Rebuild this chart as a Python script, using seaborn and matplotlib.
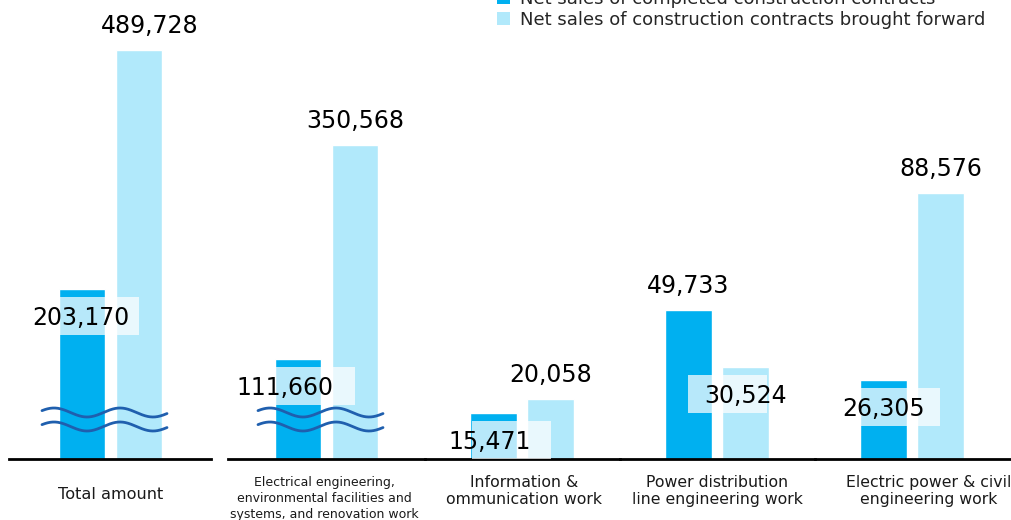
import matplotlib
matplotlib.use("Agg")
import matplotlib.pyplot as plt
import matplotlib.transforms as mtransforms
from matplotlib.patches import Patch, Rectangle
import numpy as np
import pandas as pd
import seaborn as sns

# ---- data -------------------------------------------------------------
groups = [
    "Total amount",
    "Electrical engineering,\nenvironmental facilities and\nsystems, and renovation work",
    "Information &\nommunication work",
    "Power distribution\nline engineering work",
    "Electric power & civil\nengineering work",
]
series = [
    "Net sales of completed construction contracts",
    "Net sales of construction contracts brought forward",
]
completed = [203170, 111660, 15471, 49733, 26305]
brought_forward = [489728, 350568, 20058, 30524, 88576]

colors = ["#00B0F0", "#B1E9FB"]

# ---- layout (pixels on a 1012x520 canvas) -----------------------------
W, H, DPI = 1012, 520, 100
BASE, TOP = 459, 20
PX_PER_UNIT = 142.5
# left, right, group centre, y max, label size, label pad, label dx, line spacing
panels = [
    (9, 211, 110.5, 526000, 11.6, 28, 0, 1.2),
    (228, 425, 326.5, 489400, 9, 17, -2, 1.32),
    (425, 620, 522, 146300, 11.3, 16, 2, 1.2),
    (620, 815, 717, 146300, 11.3, 16, 0, 1.2),
    (815, 1012, 912, 146300, 11.3, 16, 17, 1.2),
]
# where the value label of each bar goes: "above" or "in", with x offset
label_pos = [
    (("in", -1), ("above", 11)),
    (("in", -13), ("above", 0)),
    (("in", -4), ("above", 0)),
    (("above", 0), ("in", 0)),
    (("in", 0), ("above", 0)),
]
broken = [True, True, False, False, False]

df = pd.DataFrame({
    "group": np.repeat(groups, 2),
    "series": series * len(groups),
    "value": [v for pair in zip(completed, brought_forward) for v in pair],
})

sns.set_style("white")
plt.rcParams["font.family"] = ["DejaVu Sans"]

fig = plt.figure(figsize=(W / DPI, H / DPI), dpi=DPI)


def draw_wave(ax, y_px, x0_px, x1_px, left, right):
    # break mark drawn in pixel units, converted to axes fractions
    s = np.linspace(0, x1_px - x0_px, 200)
    y = 4.5 * np.cos(2 * np.pi * (s - 12) / 66)
    xf = (x0_px + s - left) / (right - left)
    yf = (BASE - y_px + y) / (BASE - TOP)
    ax.plot(xf, yf, transform=ax.transAxes, color="#1F5FAE", lw=2.0,
            clip_on=False, zorder=5, solid_capstyle="round")


for i, (left, right, centre, ymax, tsize, tpad, tdx, lsp) in enumerate(panels):
    ax = fig.add_axes([left / W, (H - BASE) / H, (right - left) / W, (BASE - TOP) / H])
    sub = df[df["group"] == groups[i]]
    sns.barplot(data=sub, x="group", y="value", hue="series", hue_order=series,
                palette=colors, width=0.8, gap=0.19, saturation=1,
                legend=False, ax=ax)
    ax.set_xlim((left - centre) / PX_PER_UNIT, (right - centre) / PX_PER_UNIT)
    ax.set_ylim(0, ymax)
    ax.set_xlabel("")
    ax.set_ylabel("")
    ax.set_yticks([])
    ax.set_xticks([])
    sns.despine(ax=ax, left=True)
    ax.spines["bottom"].set_color("black")
    ax.spines["bottom"].set_linewidth(2)
    ax.patch.set_alpha(0)

    # category label
    ax.annotate(groups[i], xy=(0, 0), xycoords=ax.get_xaxis_transform(),
                xytext=(tdx, -tpad), textcoords="offset pixels",
                ha="center", va="top", fontsize=tsize, color="#1a1a1a",
                multialignment="center", linespacing=lsp, annotation_clip=False)

    bars = [p for p in ax.patches if p.get_height() > 0]
    for j, bar in enumerate(bars):
        xc = bar.get_x() + bar.get_width() / 2
        top = bar.get_height()
        txt = f"{int(round(top)):,}"
        kind, dx = label_pos[i][j]
        if kind == "above":
            ax.annotate(txt, xy=(xc, top), xytext=(dx, 24), textcoords="offset pixels",
                        ha="center", va="center", fontsize=17, color="black",
                        annotation_clip=False, zorder=6)
        else:
            bx0 = -22 if j == 0 else -57
            trans = mtransforms.IdentityTransform() + \
                mtransforms.ScaledTranslation(xc, top, ax.transData)
            ax.add_patch(Rectangle((bx0, -46), 79, 38, transform=trans,
                                   facecolor="white", alpha=0.72, lw=0,
                                   zorder=4, clip_on=False))
            ax.annotate(txt, xy=(xc, top), xytext=(dx, -29), textcoords="offset pixels",
                        ha="center", va="center", fontsize=17, color="black",
                        annotation_clip=False, zorder=6)

    if broken[i]:
        x0 = centre - 68.5
        x1 = centre + 56.5
        draw_wave(ax, 412.5, x0, x1, left, right)
        draw_wave(ax, 426.5, x0, x1, left, right)

handles = [Patch(facecolor=c, edgecolor="none") for c in colors]
fig.legend(handles, series, loc="center left",
           bbox_to_anchor=(497 / W, 1 - 9.5 / H), frameon=False, fontsize=13,
           handlelength=0.7, handleheight=0.7, handletextpad=0.6,
           labelspacing=0.15, borderpad=0, borderaxespad=0)

fig.savefig("out.png", dpi=DPI)
